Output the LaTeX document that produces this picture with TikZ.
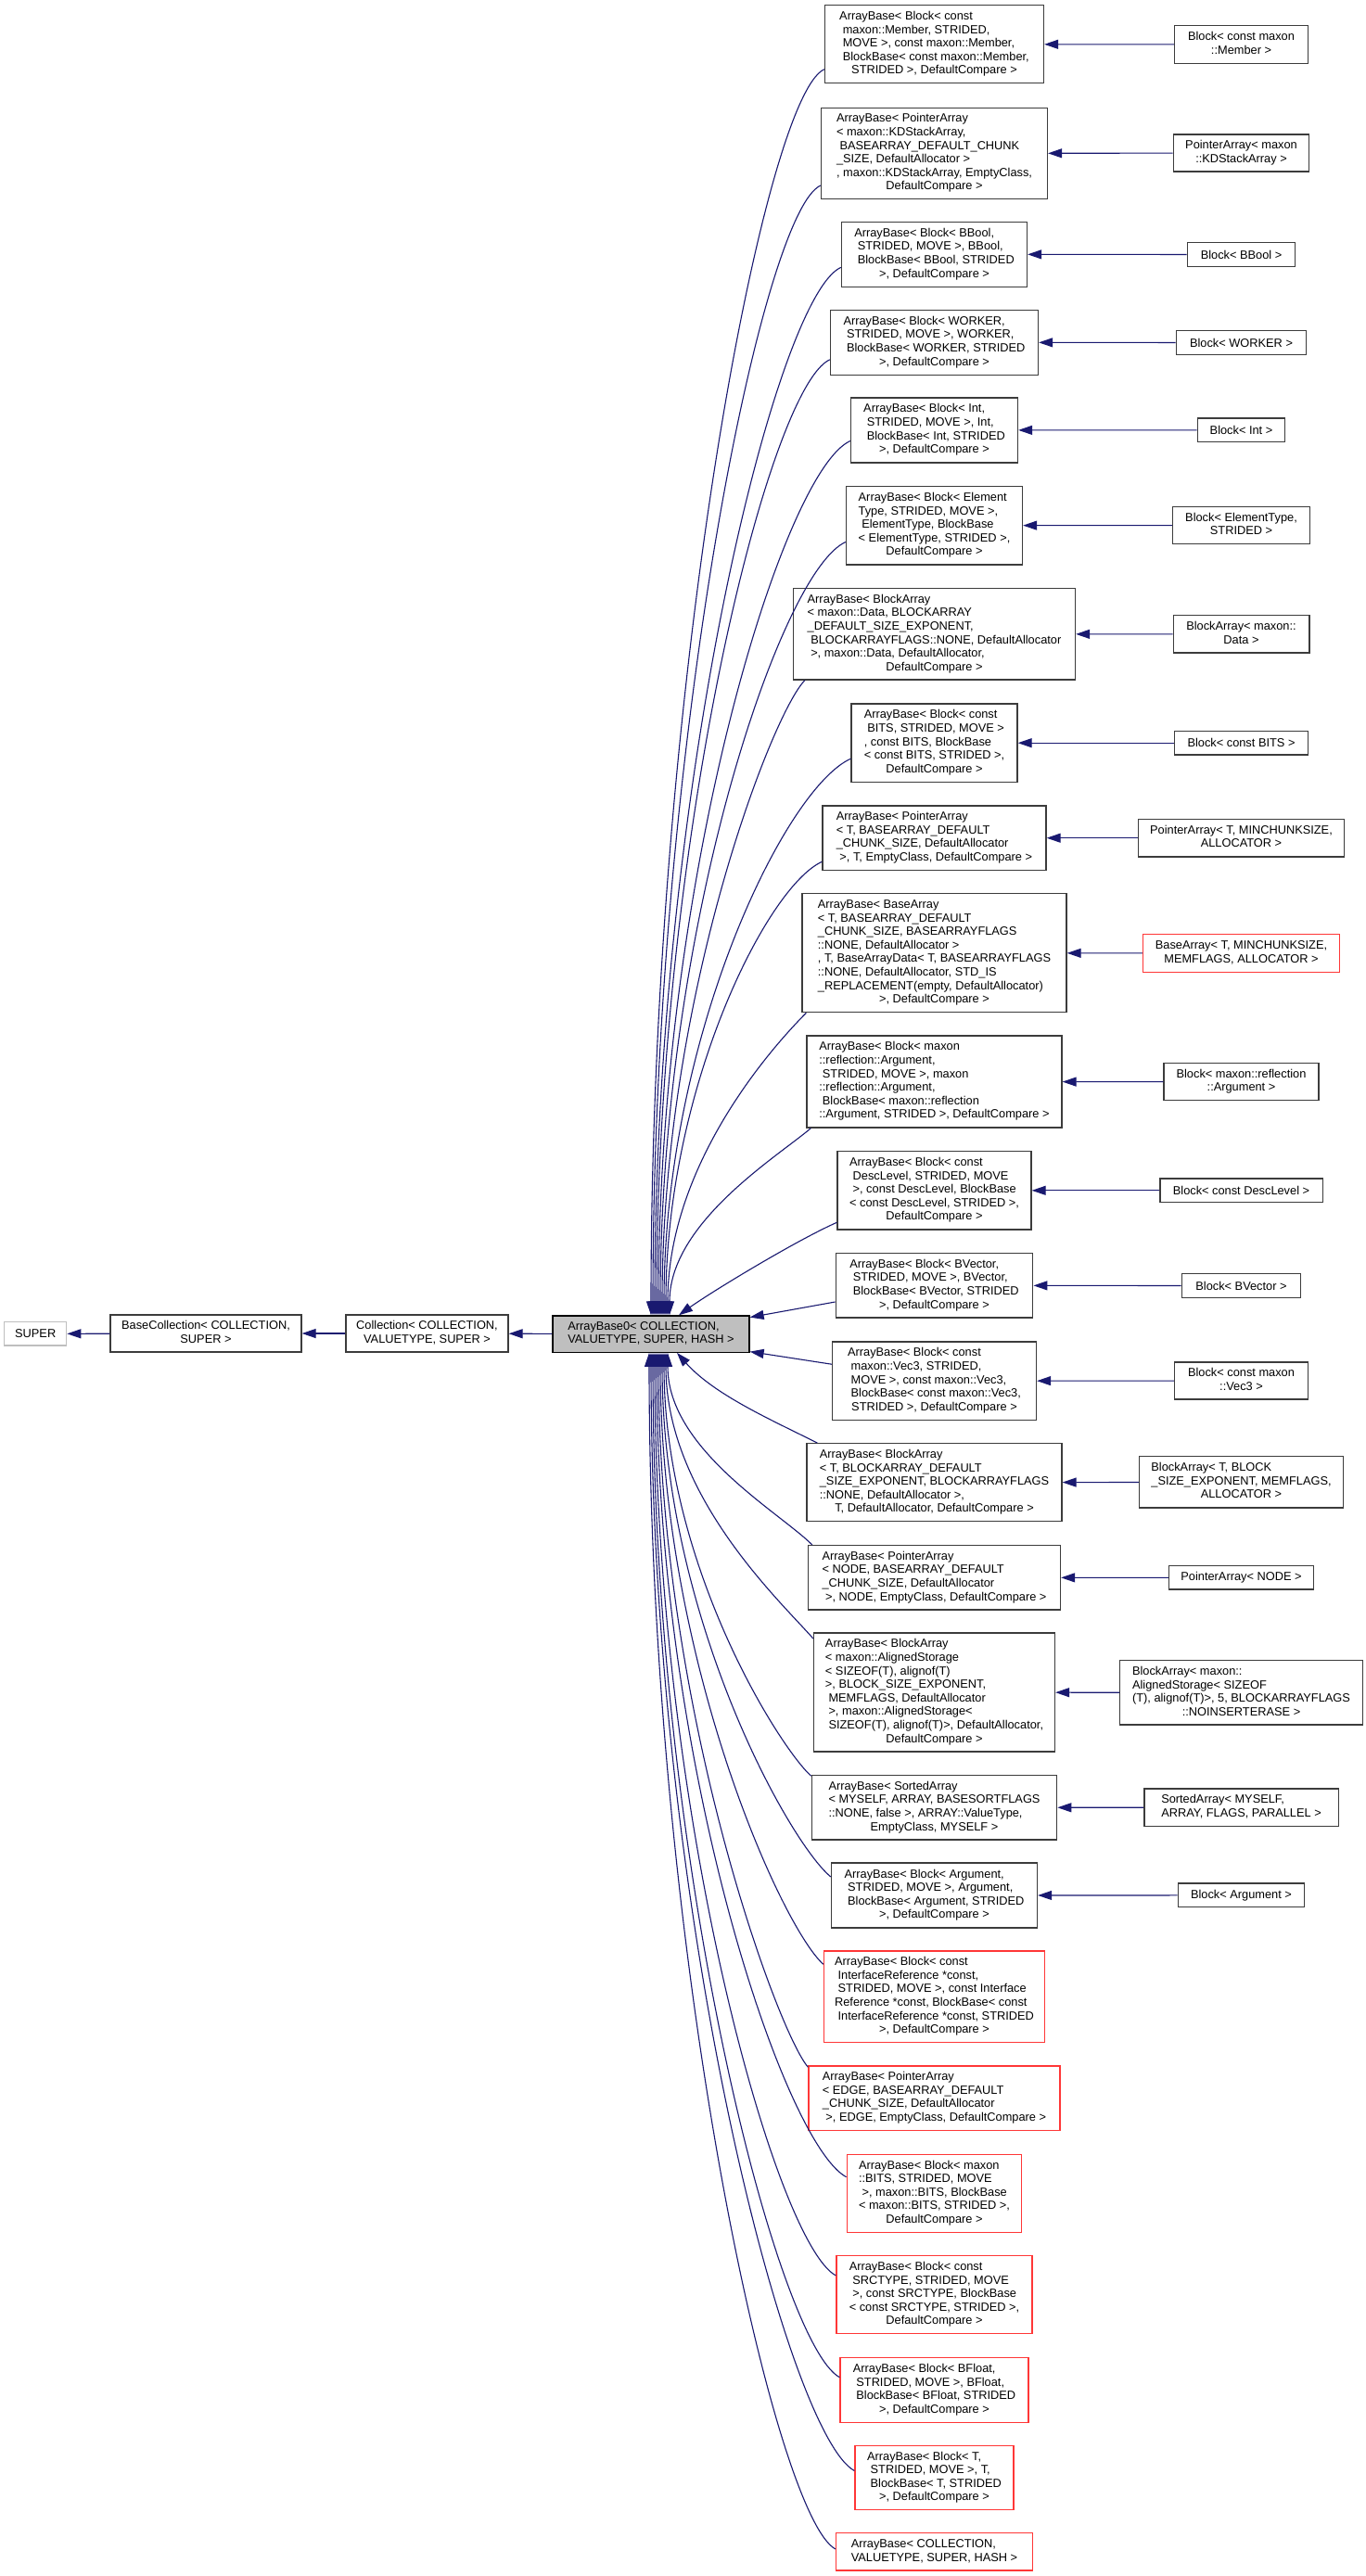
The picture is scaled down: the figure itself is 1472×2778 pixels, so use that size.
\documentclass[tikz,border=0pt]{standalone}
\usepackage{fontspec}
\setmainfont{Liberation Sans}
\usetikzlibrary{arrows.meta}
\definecolor{edgeblue}{RGB}{25,25,112}
\definecolor{boxborder}{RGB}{60,60,60}
\definecolor{redborder}{RGB}{255,55,55}
\definecolor{grayfill}{RGB}{191,191,191}
\definecolor{lightborder}{RGB}{191,191,191}
\newcommand{\dxlines}[2]{\begin{tabular}{@{}l@{}}#1\\\multicolumn{1}{@{}c@{}}{#2}\end{tabular}}
\tikzset{
  box/.style={draw=boxborder, line width=1.3pt, fill=white, rectangle, inner sep=1pt,
    font=\fontsize{12.8}{14.6}\selectfont},
  redbox/.style={box, draw=redborder},
  edge/.style={draw=edgeblue, line width=1.1pt, -{Triangle[length=15pt,width=10pt]}},
}
\begin{document}
\begin{tikzpicture}[x=1pt,y=-1pt]
\useasboundingbox[fill=white] (0,0) rectangle (1472,2778);

% left chain
\node[box, draw=lightborder, minimum width=67pt, minimum height=25.3pt] (super) at (38.2,1438.4) {SUPER};
\node[box, minimum width=206pt, minimum height=40pt] (bc) at (222,1438) {\dxlines{BaseCollection< COLLECTION,}{SUPER >}};
\node[box, minimum width=175pt, minimum height=40pt] (coll) at (460.5,1438) {\dxlines{Collection< COLLECTION,}{VALUETYPE, SUPER >}};
\node[box, fill=grayfill, draw=black, minimum width=212pt, minimum height=39.3pt] (ab0) at (702,1438.6) {\dxlines{ArrayBase0< COLLECTION,}{VALUETYPE, SUPER, HASH >}};

% middle column
\node[box, minimum width=236pt, minimum height=84pt] (m1) at (1007.5,47.7) {\dxlines{ArrayBase< Block< const\\\ maxon::Member, STRIDED,\\\ MOVE >, const maxon::Member,\\\ BlockBase< const maxon::Member,}{STRIDED >, DefaultCompare >}};
\node[box, minimum width=244pt, minimum height=98.4pt] (m2) at (1007.5,165.5) {\dxlines{ArrayBase< PointerArray\\< maxon::KDStackArray,\\\ BASEARRAY\_DEFAULT\_CHUNK\\\_SIZE, DefaultAllocator >\\, maxon::KDStackArray, EmptyClass,}{DefaultCompare >}};
\node[box, minimum width=200pt, minimum height=70pt] (m3) at (1007.5,274.3) {\dxlines{ArrayBase< Block< BBool,\\\ STRIDED, MOVE >, BBool,\\\ BlockBase< BBool, STRIDED}{>, DefaultCompare >}};
\node[box, minimum width=224pt, minimum height=70pt] (m4) at (1007.5,369.3) {\dxlines{ArrayBase< Block< WORKER,\\\ STRIDED, MOVE >, WORKER,\\\ BlockBase< WORKER, STRIDED}{>, DefaultCompare >}};
\node[box, minimum width=180pt, minimum height=70pt] (m5) at (1007.5,463.9) {\dxlines{ArrayBase< Block< Int,\\\ STRIDED, MOVE >, Int,\\\ BlockBase< Int, STRIDED}{>, DefaultCompare >}};
\node[box, minimum width=190pt, minimum height=84.7pt] (m6) at (1007.5,566.7) {\dxlines{ArrayBase< Block< Element\\Type, STRIDED, MOVE >,\\\ ElementType, BlockBase\\< ElementType, STRIDED >,}{DefaultCompare >}};
\node[box, minimum width=304pt, minimum height=98.3pt] (m7) at (1007.5,683.9) {\dxlines{ArrayBase< BlockArray\\< maxon::Data, BLOCKARRAY\\\_DEFAULT\_SIZE\_EXPONENT,\\\ BLOCKARRAYFLAGS::NONE, DefaultAllocator\\\ >, maxon::Data, DefaultAllocator,}{DefaultCompare >}};
\node[box, minimum width=179pt, minimum height=84.3pt] (m8) at (1007.5,801.2) {\dxlines{ArrayBase< Block< const\\\ BITS, STRIDED, MOVE >\\, const BITS, BlockBase\\< const BITS, STRIDED >,}{DefaultCompare >}};
\node[box, minimum width=241pt, minimum height=69.3pt] (m9) at (1007.5,903.7) {\dxlines{ArrayBase< PointerArray\\< T, BASEARRAY\_DEFAULT\\\_CHUNK\_SIZE, DefaultAllocator}{\ >, T, EmptyClass, DefaultCompare >}};
\node[box, minimum width=285pt, minimum height=128pt] (m10) at (1007.5,1027.7) {\dxlines{ArrayBase< BaseArray\\< T, BASEARRAY\_DEFAULT\\\_CHUNK\_SIZE, BASEARRAYFLAGS\\::NONE, DefaultAllocator >\\, T, BaseArrayData< T, BASEARRAYFLAGS\\::NONE, DefaultAllocator, STD\_IS\\\_REPLACEMENT(empty, DefaultAllocator)}{>, DefaultCompare >}};
\node[box, minimum width=275pt, minimum height=99pt] (m11) at (1007.5,1166.5) {\dxlines{ArrayBase< Block< maxon\\::reflection::Argument,\\\ STRIDED, MOVE >, maxon\\::reflection::Argument,\\\ BlockBase< maxon::reflection}{::Argument, STRIDED >, DefaultCompare >}};
\node[box, minimum width=209pt, minimum height=84.3pt] (m12) at (1007.5,1283.8) {\dxlines{ArrayBase< Block< const\\\ DescLevel, STRIDED, MOVE\\\ >, const DescLevel, BlockBase\\< const DescLevel, STRIDED >,}{DefaultCompare >}};
\node[box, minimum width=212.6pt, minimum height=69.3pt] (m13) at (1007.5,1386.3) {\dxlines{ArrayBase< Block< BVector,\\\ STRIDED, MOVE >, BVector,\\\ BlockBase< BVector, STRIDED}{>, DefaultCompare >}};
\node[box, minimum width=220pt, minimum height=84.3pt] (m14) at (1007.5,1489.2) {\dxlines{ArrayBase< Block< const\\\ maxon::Vec3, STRIDED,\\\ MOVE >, const maxon::Vec3,\\\ BlockBase< const maxon::Vec3,}{STRIDED >, DefaultCompare >}};
\node[box, minimum width=275pt, minimum height=84pt] (m15) at (1007.5,1598.7) {\dxlines{ArrayBase< BlockArray\\< T, BLOCKARRAY\_DEFAULT\\\_SIZE\_EXPONENT, BLOCKARRAYFLAGS\\::NONE, DefaultAllocator >,}{T, DefaultAllocator, DefaultCompare >}};
\node[box, minimum width=272pt, minimum height=69.3pt] (m16) at (1007.5,1701.3) {\dxlines{ArrayBase< PointerArray\\< NODE, BASEARRAY\_DEFAULT\\\_CHUNK\_SIZE, DefaultAllocator}{\ >, NODE, EmptyClass, DefaultCompare >}};
\node[box, minimum width=260pt, minimum height=128pt] (m17) at (1007.5,1825) {\dxlines{ArrayBase< BlockArray\\< maxon::AlignedStorage\\< SIZEOF(T), alignof(T)\\>, BLOCK\_SIZE\_EXPONENT,\\\ MEMFLAGS, DefaultAllocator\\\ >, maxon::AlignedStorage<\\\ SIZEOF(T), alignof(T)>, DefaultAllocator,}{DefaultCompare >}};
\node[box, minimum width=264.4pt, minimum height=69.3pt] (m18) at (1007.5,1949.3) {\dxlines{ArrayBase< SortedArray\\< MYSELF, ARRAY, BASESORTFLAGS\\::NONE, false >, ARRAY::ValueType,}{EmptyClass, MYSELF >}};
\node[box, minimum width=222pt, minimum height=70pt] (m19) at (1007.5,2044) {\dxlines{ArrayBase< Block< Argument,\\\ STRIDED, MOVE >, Argument,\\\ BlockBase< Argument, STRIDED}{>, DefaultCompare >}};
\node[redbox, minimum width=238pt, minimum height=98.7pt] (m20) at (1007.5,2153.3) {\dxlines{ArrayBase< Block< const\\\ InterfaceReference *const,\\\ STRIDED, MOVE >, const Interface\\Reference *const, BlockBase< const\\\ InterfaceReference *const, STRIDED}{>, DefaultCompare >}};
\node[redbox, minimum width=271pt, minimum height=69.3pt] (m21) at (1007.5,2262.7) {\dxlines{ArrayBase< PointerArray\\< EDGE, BASEARRAY\_DEFAULT\\\_CHUNK\_SIZE, DefaultAllocator}{\ >, EDGE, EmptyClass, DefaultCompare >}};
\node[redbox, minimum width=188.6pt, minimum height=84pt] (m22) at (1007.5,2365.3) {\dxlines{ArrayBase< Block< maxon\\::BITS, STRIDED, MOVE\\\ >, maxon::BITS, BlockBase\\< maxon::BITS, STRIDED >,}{DefaultCompare >}};
\node[redbox, minimum width=211pt, minimum height=84pt] (m23) at (1007.5,2474.7) {\dxlines{ArrayBase< Block< const\\\ SRCTYPE, STRIDED, MOVE\\\ >, const SRCTYPE, BlockBase\\< const SRCTYPE, STRIDED >,}{DefaultCompare >}};
\node[redbox, minimum width=203pt, minimum height=69.6pt] (m24) at (1007.5,2577.5) {\dxlines{ArrayBase< Block< BFloat,\\\ STRIDED, MOVE >, BFloat,\\\ BlockBase< BFloat, STRIDED}{>, DefaultCompare >}};
\node[redbox, minimum width=171pt, minimum height=69.4pt] (m25) at (1007.5,2672) {\dxlines{ArrayBase< Block< T,\\\ STRIDED, MOVE >, T,\\\ BlockBase< T, STRIDED}{>, DefaultCompare >}};
\node[redbox, minimum width=212pt, minimum height=40.3pt] (m26) at (1007.5,2751.9) {\dxlines{ArrayBase< COLLECTION,}{VALUETYPE, SUPER, HASH >}};

% right column
\node[box, minimum width=143.5pt, minimum height=40.6pt] (r1) at (1338.5,48) {\dxlines{Block< const maxon}{::Member >}};
\node[box, minimum width=146.3pt, minimum height=40pt] (r2) at (1338.5,165) {\dxlines{PointerArray< maxon}{::KDStackArray >}};
\node[box, minimum width=116.3pt, minimum height=25.6pt] (r3) at (1338.5,274.5) {Block< BBool >};
\node[box, minimum width=140.3pt, minimum height=25.6pt] (r4) at (1338.5,369.5) {Block< WORKER >};
\node[box, minimum width=94.3pt, minimum height=25.7pt] (r5) at (1338.5,463.8) {Block< Int >};
\node[box, minimum width=148.2pt, minimum height=40.4pt] (r6) at (1338.5,566.5) {\dxlines{Block< ElementType,}{STRIDED >}};
\node[box, minimum width=146.7pt, minimum height=40.3pt] (r7) at (1338.5,683.8) {\dxlines{BlockArray< maxon::}{Data >}};
\node[box, minimum width=144.2pt, minimum height=25.7pt] (r8) at (1338.5,801.2) {Block< const BITS >};
\node[box, minimum width=221.9pt, minimum height=40.7pt] (r9) at (1338.5,903.7) {\dxlines{PointerArray< T, MINCHUNKSIZE,}{ALLOCATOR >}};
\node[redbox, minimum width=211.8pt, minimum height=40.6pt] (r10) at (1338.5,1028) {\dxlines{BaseArray< T, MINCHUNKSIZE,}{MEMFLAGS, ALLOCATOR >}};
\node[box, minimum width=167.2pt, minimum height=40pt] (r11) at (1338.5,1166.7) {\dxlines{Block< maxon::reflection}{::Argument >}};
\node[box, minimum width=175.3pt, minimum height=25.7pt] (r12) at (1338.5,1283.8) {Block< const DescLevel >};
\node[box, minimum width=128.4pt, minimum height=25.6pt] (r13) at (1338.5,1386.5) {Block< BVector >};
\node[box, minimum width=144.2pt, minimum height=40pt] (r14) at (1338.5,1489) {\dxlines{Block< const maxon}{::Vec3 >}};
\node[box, minimum width=219.8pt, minimum height=55.3pt] (r15) at (1338.5,1598.4) {\dxlines{BlockArray< T, BLOCK\\\_SIZE\_EXPONENT, MEMFLAGS,}{ALLOCATOR >}};
\node[box, minimum width=155.5pt, minimum height=25.3pt] (r16) at (1338.5,1701.4) {PointerArray< NODE >};
\node[box, minimum width=261.6pt, minimum height=69.3pt] (r17) at (1338.5,1825.4) {\dxlines{BlockArray< maxon::\\AlignedStorage< SIZEOF\\(T), alignof(T)>, 5, BLOCKARRAYFLAGS}{::NOINSERTERASE >}};
\node[box, minimum width=209.3pt, minimum height=40.3pt] (r18) at (1338.5,1949.2) {\dxlines{SortedArray< MYSELF,}{ARRAY, FLAGS, PARALLEL >}};
\node[box, minimum width=136.4pt, minimum height=25.7pt] (r19) at (1338.5,2043.9) {Block< Argument >};

% left chain edges
\draw[edge] (ab0) -- (coll);
\draw[edge] (coll) -- (bc);
\draw[edge] (bc) -- (super);

% right column edges
\foreach \i in {1,...,19} { \draw[edge] (r\i) -- (m\i); }

% upper fan
\draw[edge] ([yshift=-27pt]m1.west) .. controls +(-65.7,29.6) and +(0,-672) .. ([xshift=0pt]ab0.north);
\draw[edge] ([yshift=-34.5pt]m2.west) .. controls +(-63.7,28.7) and +(0,-609) .. ([xshift=2pt]ab0.north);
\draw[edge] ([yshift=-14pt]m3.west) .. controls +(-70.6,31.8) and +(0,-565) .. ([xshift=4pt]ab0.north);
\draw[edge] ([yshift=-18.5pt]m4.west) .. controls +(-65.7,29.6) and +(0,-515) .. ([xshift=6pt]ab0.north);
\draw[edge] ([yshift=-11.6pt]m5.west) .. controls +(-72.7,32.7) and +(0,-472) .. ([xshift=8pt]ab0.north);
\draw[edge] ([yshift=-17.8pt]m6.west) .. controls +(-70.3,31.6) and +(0,-417) .. ([xshift=10pt]ab0.north);
\draw[edge] ([xshift=13pt]m7.south west) .. controls +(-35,35) and +(0,-343) .. ([xshift=12pt]ab0.north);
\draw[edge] ([yshift=-17pt]m8.west) .. controls +(-70.9,31.9) and +(0,-300) .. ([xshift=14pt]ab0.north);
\draw[edge] ([yshift=-25.6pt]m9.west) .. controls +(-59.3,26.7) and +(0,-245) .. ([xshift=16pt]ab0.north);
\draw[edge] ([xshift=5pt]m10.south west) .. controls +(-35,35) and +(0,-164) .. ([xshift=18pt]ab0.north);
\draw[edge] ([xshift=5pt]m11.south west) .. controls +(-35,30) and +(0,-100) .. ([xshift=20pt]ab0.north);
\draw[edge] ([yshift=-34.5pt]m12.west) .. controls +(-45,20) and +(35,-25) .. ([xshift=30pt]ab0.north);
\draw[edge] ([yshift=-17.7pt]m13.west) -- ([yshift=18pt]ab0.east);

% lower fan
\draw[edge] ([yshift=18pt]m14.west) -- ([yshift=-19pt]ab0.east);
\draw[edge] ([xshift=12pt]m15.north west) .. controls +(-50,-25) and +(40,45) .. ([xshift=28pt]ab0.south);
\draw[edge] ([xshift=5pt]m16.north west) .. controls +(-35,-35) and +(0,104) .. ([xshift=18pt]ab0.south);
\draw[edge] ([yshift=58pt]m17.west) .. controls +(-35,-40) and +(0,154) .. ([xshift=16pt]ab0.south);
\draw[edge] ([yshift=34pt]m18.west) .. controls +(-35,-32) and +(0,228) .. ([xshift=14pt]ab0.south);
\draw[edge] ([yshift=20pt]m19.west) .. controls +(-45,-37) and +(0,283) .. ([xshift=12pt]ab0.south);
\draw[edge] ([yshift=35pt]m20.west) .. controls +(-45,-40) and +(0,330) .. ([xshift=10pt]ab0.south);
\draw[edge] ([yshift=33.5pt]m21.west) .. controls +(-32,-36) and +(0,385) .. ([xshift=8pt]ab0.south);
\draw[edge] ([yshift=17.6pt]m22.west) .. controls +(-67.5,-36.8) and +(0,445) .. ([xshift=6pt]ab0.south);
\draw[edge] ([yshift=20.7pt]m23.west) .. controls +(-64.6,-35.2) and +(0,498) .. ([xshift=4pt]ab0.south);
\draw[edge] ([yshift=13.8pt]m24.west) .. controls +(-66.6,-36.3) and +(0,553) .. ([xshift=2pt]ab0.south);
\draw[edge] ([yshift=7.5pt]m25.west) .. controls +(-72.5,-39.5) and +(0,603) .. ([xshift=0pt]ab0.south);
\draw[edge] ([yshift=3pt]m26.west) .. controls +(-66.3,-36.2) and +(0,645) .. ([xshift=-2pt]ab0.south);
\end{tikzpicture}
\end{document}
